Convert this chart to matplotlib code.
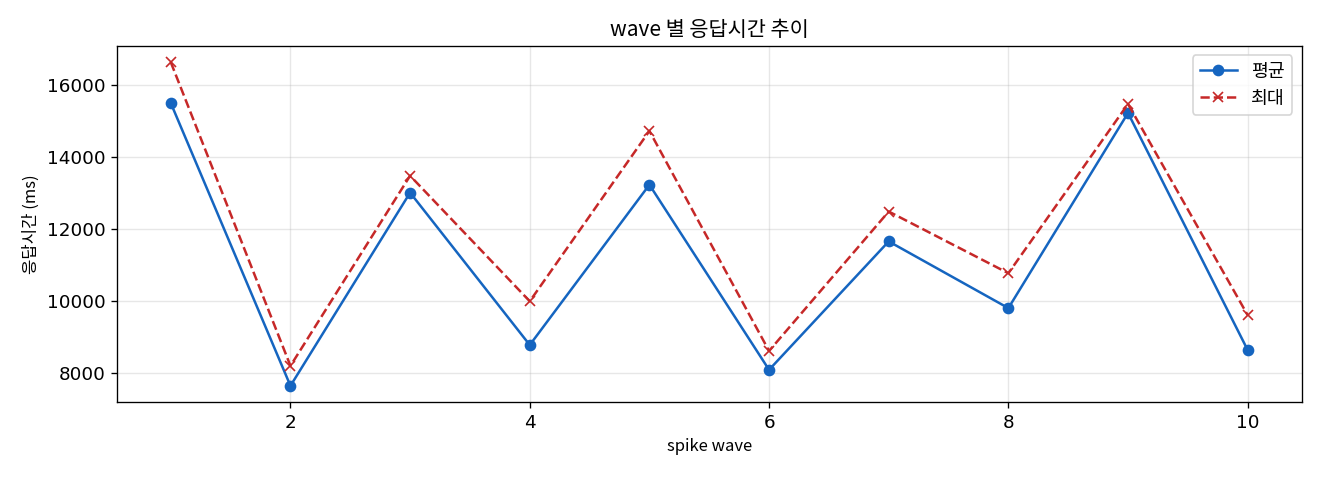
import numpy as np
import matplotlib
matplotlib.use('Agg')
import matplotlib.pyplot as plt

plt.rcParams['font.family'] = ['Noto Sans CJK KR', 'DejaVu Sans']
plt.rcParams['axes.unicode_minus'] = False

waves = [1, 2, 3, 4, 5, 6, 7, 8, 9, 10]
avg_ms = [15500, 7640, 13010, 8775, 13230, 8085, 11655, 9800, 15225, 8635]
max_ms = [16635, 8195, 13480, 9990, 14725, 8610, 12485, 10770, 15475, 9605]

fig, ax = plt.subplots(figsize=(11, 4), dpi=120)
fig.subplots_adjust(left=0.0886, right=0.986, top=0.904, bottom=0.1625)

ax.plot(waves, avg_ms, '-o', color='#1565C0', markersize=6, linewidth=1.5, label='평균')
ax.plot(waves, max_ms, '--x', color='#C62828', markersize=6, linewidth=1.5, label='최대')

ax.set_title('wave 별 응답시간 추이', fontsize=12.5)
ax.set_xlabel('spike wave')
ax.set_ylabel('응답시간 (ms)')
ax.grid(True, alpha=0.3)
ax.legend(loc='upper right', fontsize=11)

ax.tick_params(labelsize=11)
for lbl in ax.get_xticklabels() + ax.get_yticklabels():
    lbl.set_family('DejaVu Sans')

plt.savefig('out.png')
